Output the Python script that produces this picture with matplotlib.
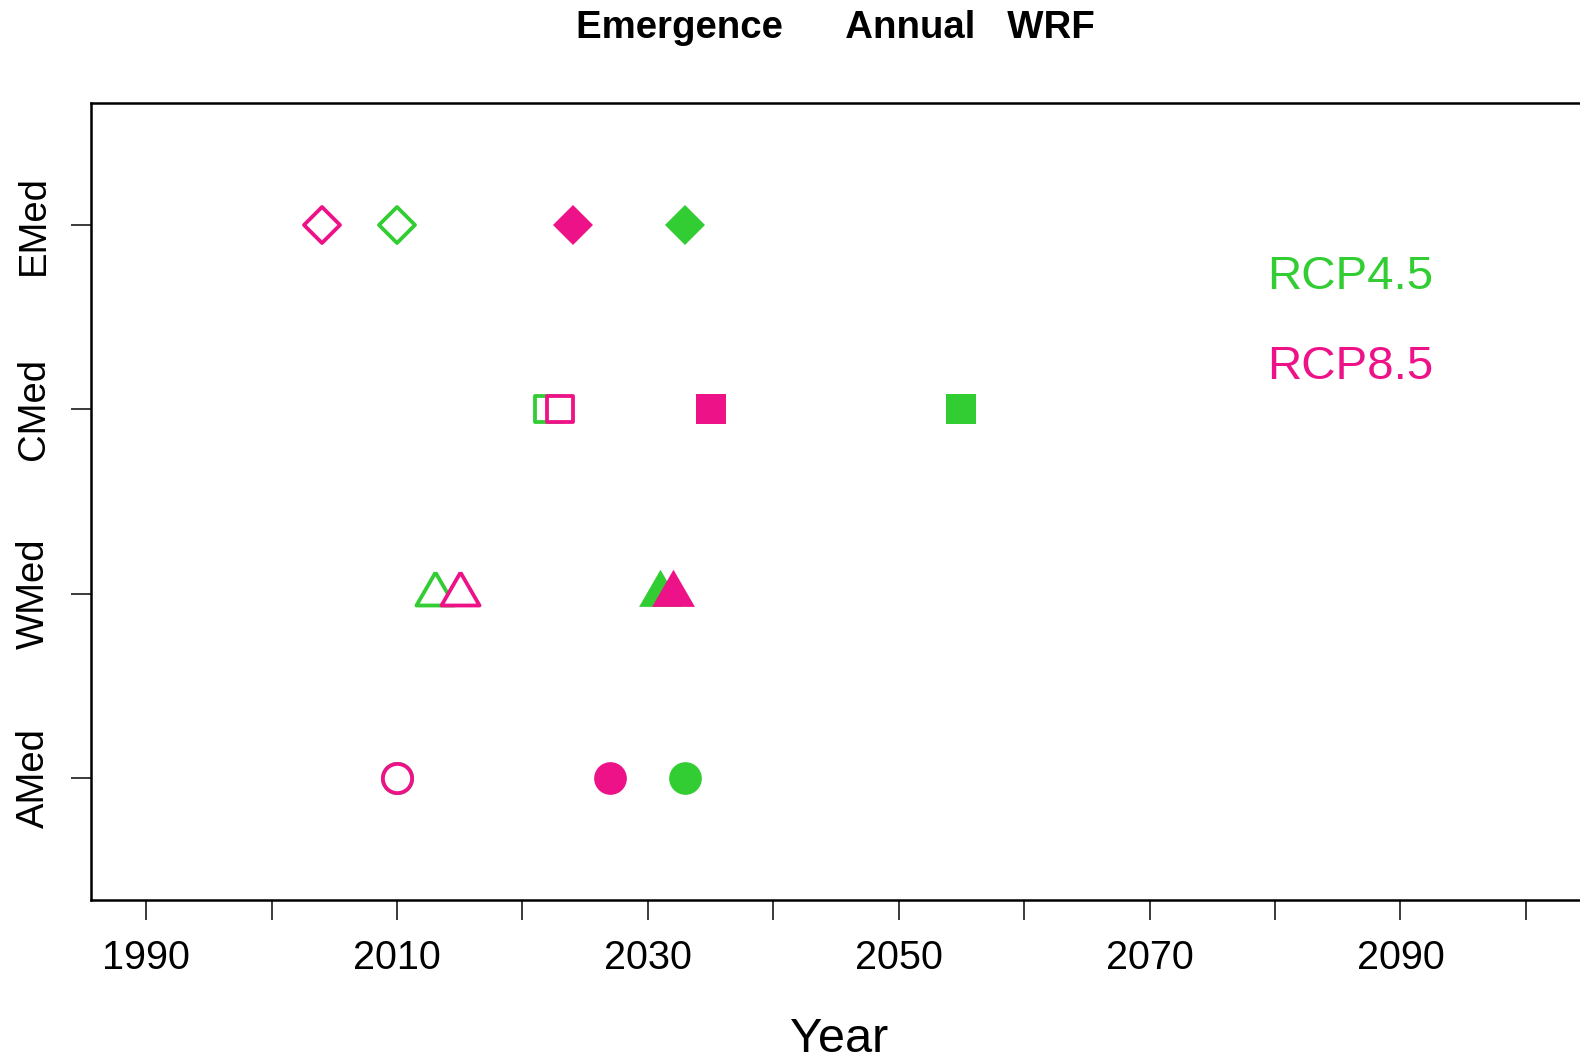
import matplotlib
matplotlib.use("Agg")
import matplotlib.pyplot as plt
from matplotlib.markers import MarkerStyle

# Regions on the y axis (bottom to top) and emergence years per scenario
regions = ["AMed", "WMed", "CMed", "EMed"]
rcp45_open = [2010, 2013, 2022, 2010]
rcp85_open = [2010, 2015, 2023, 2004]
rcp45_filled = [2033, 2031, 2055, 2033]
rcp85_filled = [2027, 2032, 2035, 2024]

x_ticks = list(range(1990, 2101, 10))
x_labels = [str(t) if (t - 1990) % 20 == 0 else "" for t in x_ticks]

GREEN = "#32CD32"
PINK = "#EE1289"
DPI = 100


def px(v):
    """pixels -> points"""
    return v * 72.0 / DPI


plt.rcParams["font.family"] = ["Liberation Sans", "DejaVu Sans"]

fig = plt.figure(figsize=(15.8, 10.59), dpi=DPI)
W, H = 1580.0, 1059.0
left, right, top, bottom = 91.0, 1581.0, 102.9, 900.1
ax = fig.add_axes([left / W, 1 - bottom / H, (right - left) / W, (bottom - top) / H])

# equilateral triangle centred on its centroid
tri = [(0, 1.5551), (1.3468, -0.7776), (-1.3468, -0.7776), (0, 1.5551)]
shapes = ["o", tri, "s", "D"]
open_lw = 3.8
open_size = [29.2, 44.0, 25.2, 25.0]
filled_size = [32.7, 49.5, 29.7, 27.8]

ypos = list(range(1, len(regions) + 1))
for i, y in enumerate(ypos):
    shp = shapes[i]
    for xs, col in ((rcp45_open, GREEN), (rcp85_open, PINK)):
        ax.plot([xs[i]], [y], linestyle="none",
                marker=MarkerStyle(shp, joinstyle="round"),
                ms=px(open_size[i]), mfc="white", mec=col, mew=px(open_lw))
    for xs, col in ((rcp45_filled, GREEN), (rcp85_filled, PINK)):
        ax.plot([xs[i]], [y], linestyle="none", marker=shp,
                ms=px(filled_size[i]), mfc=col, mec=col, mew=0)

ax.set_xlim(1985.6, 2104.4)
ax.set_ylim(0.34, 4.66)

ax.set_xticks(x_ticks)
ax.set_xticklabels(x_labels)
ax.set_yticks(ypos)
ax.set_yticklabels(regions, rotation=90, va="center")
ax.tick_params(axis="x", length=px(20), width=px(1.5), pad=px(19), labelsize=28.5)
ax.tick_params(axis="y", length=px(20), width=px(1.5), pad=px(19), labelsize=27.5)
for s in ax.spines.values():
    s.set_linewidth(px(2.5))

ax.text(2079.4, 3.650, "RCP4.5", color=GREEN, fontsize=34.2, ha="left", va="baseline")
ax.text(2079.4, 3.163, "RCP8.5", color=PINK, fontsize=34.2, ha="left", va="baseline")

cx = (left + 1580.7) / 2 / W
fig.text(cx, 1 - 38.5 / H, "Emergence      Annual   WRF", ha="center",
         va="baseline", fontsize=27.6, fontweight="bold")
fig.text(cx + 3 / W, 1 - 1052 / H, "Year", ha="center", va="baseline", fontsize=35)

fig.savefig("out.png", dpi=DPI)
